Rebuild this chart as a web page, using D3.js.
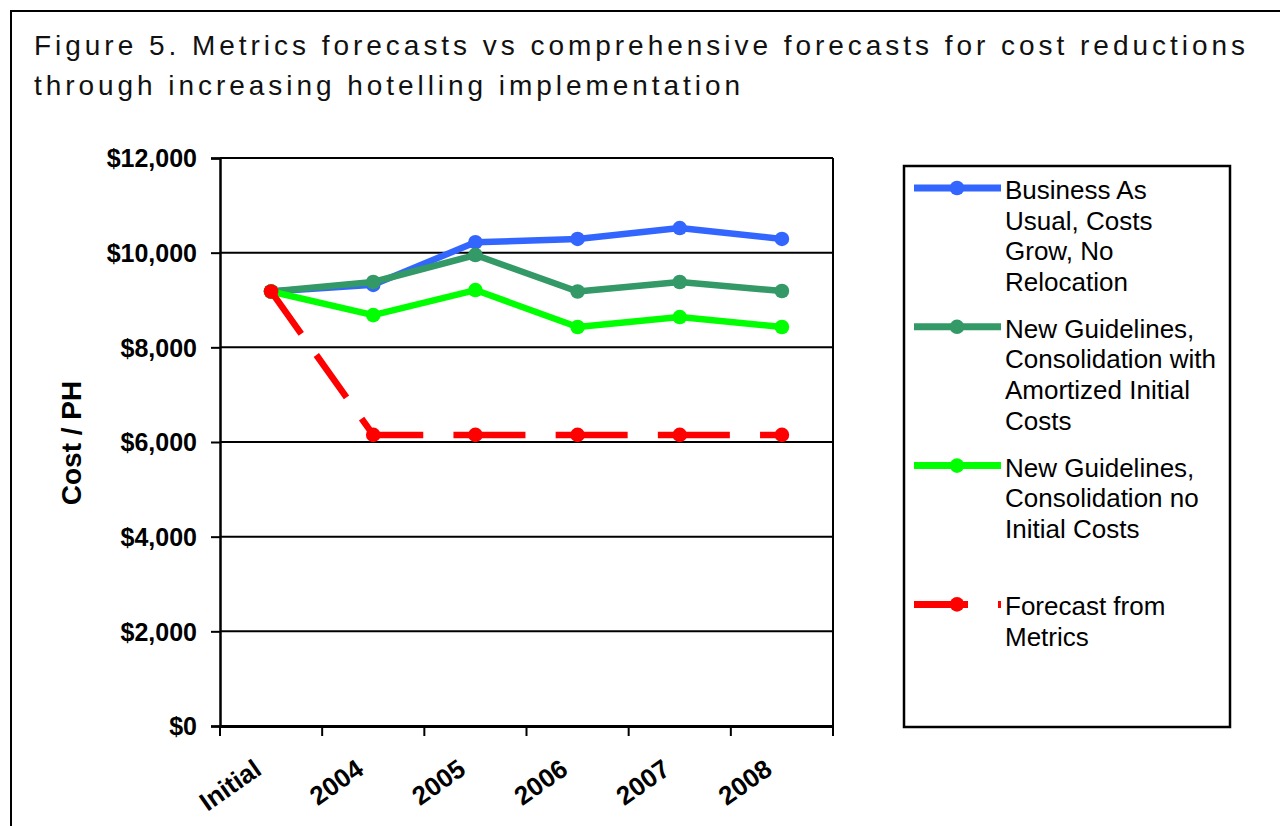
<!DOCTYPE html>
<html>
<head>
<meta charset="utf-8">
<script src="https://cdn.jsdelivr.net/npm/d3@7"></script>
<style>
  html, body { margin: 0; padding: 0; background: #fff; }
  svg { display: block; }
</style>
</head>
<body>
<svg id="chart" width="1280" height="826"></svg>
<script>
// ---- data ----
const categories = ["Initial", "2004", "2005", "2006", "2007", "2008"];
const businessAsUsual = [9180, 9320, 10220, 10290, 10520, 10290];
const amortizedCosts  = [9180, 9380, 9950, 9180, 9380, 9190];
const noInitialCosts  = [9180, 8680, 9210, 8430, 8640, 8430];
const metricsForecast = [9180, 6150, 6150, 6150, 6150, 6150];
const yTicks = [0, 2000, 4000, 6000, 8000, 10000, 12000];
const titleLines = [
  "Figure 5.  Metrics forecasts vs comprehensive forecasts for cost reductions",
  "through increasing hotelling implementation"
];
const yLabel = "Cost / PH";
const legendLabels = [
  ["Business As", "Usual, Costs", "Grow, No", "Relocation"],
  ["New Guidelines,", "Consolidation with", "Amortized Initial", "Costs"],
  ["New Guidelines,", "Consolidation no", "Initial Costs"],
  ["Forecast from", "Metrics"]
];
const seriesColors = ["#3366FF", "#339966", "#00FF00", "#FF0000"];

const series = [businessAsUsual, amortizedCosts, noInitialCosts, metricsForecast].map((v, i) => ({
  values: v, color: seriesColors[i], label: legendLabels[i], dashed: i === 3
}));

// ---- layout ----
const svg = d3.select("#chart");
const plot = { left: 220, right: 833, top: 158, bottom: 726 };
const font = "'Liberation Sans', Arial, Helvetica, sans-serif";

const x = d3.scaleBand().domain(categories).range([plot.left, plot.right]).padding(0);
const cx = c => x(c) + x.bandwidth() / 2;
const y = d3.scaleLinear().domain([0, 12000]).range([plot.bottom, plot.top]);

// outer frame
svg.append("path")
  .attr("d", "M11,826 L11,11 L1280,11")
  .attr("fill", "none").attr("stroke", "#000").attr("stroke-width", 2);

// title
svg.selectAll("text.title").data(titleLines).join("text")
  .attr("class", "title")
  .attr("x", 34)
  .attr("y", (d, i) => 55 + i * 40)
  .attr("font-family", font)
  .attr("font-size", 28)
  .attr("fill", "#111")
  .attr("textLength", (d, i) => i === 0 ? 1211 : 706)
  .attr("lengthAdjust", "spacing")
  .text(d => d);

// gridlines
svg.append("g").selectAll("line").data(yTicks).join("line")
  .attr("x1", plot.left).attr("x2", plot.right)
  .attr("y1", d => y(d)).attr("y2", d => y(d))
  .attr("stroke", "#000").attr("stroke-width", 2);

// right border
svg.append("line")
  .attr("x1", plot.right).attr("x2", plot.right)
  .attr("y1", plot.top).attr("y2", plot.bottom)
  .attr("stroke", "#000").attr("stroke-width", 2);

// y axis
const yAxis = svg.append("g")
  .attr("transform", `translate(${plot.left},0)`)
  .call(d3.axisLeft(y).tickValues(yTicks).tickSize(9).tickPadding(14).tickFormat(d3.format("$,")));
yAxis.select(".domain").attr("stroke", "#000").attr("stroke-width", 2.5);
yAxis.selectAll(".tick line").attr("stroke", "#000").attr("stroke-width", 2);
yAxis.selectAll(".tick text")
  .attr("font-family", font).attr("font-size", 25).attr("font-weight", "bold")
  .attr("fill", "#000").attr("dy", "0.35em");

// x axis (ticks at category boundaries)
const xAxis = svg.append("g")
  .attr("transform", `translate(0,${plot.bottom})`)
  .call(d3.axisBottom(x).tickSize(0).tickFormat(""));
xAxis.select(".domain").attr("stroke", "#000").attr("stroke-width", 3);
const boundaries = categories.map(c => x(c)).concat([plot.right]);
xAxis.selectAll("line.bt").data(boundaries).join("line")
  .attr("class", "bt")
  .attr("x1", d => d).attr("x2", d => d)
  .attr("y1", 0).attr("y2", 10)
  .attr("stroke", "#000").attr("stroke-width", 2);
xAxis.selectAll("text.cat").data(categories).join("text")
  .attr("class", "cat")
  .attr("transform", d => `translate(${cx(d) - 8},${47}) rotate(-35)`)
  .attr("text-anchor", "end")
  .attr("font-family", font).attr("font-size", 26).attr("font-weight", "bold")
  .attr("fill", "#000")
  .text(d => d);

// y label
svg.append("text")
  .attr("transform", `translate(81,443) rotate(-90)`)
  .attr("text-anchor", "middle")
  .attr("font-family", font).attr("font-size", 28).attr("font-weight", "bold")
  .attr("fill", "#000")
  .text(yLabel);

// series
const line = d3.line().x((d, i) => cx(categories[i])).y(d => y(d));
const gSeries = svg.append("g");
series.forEach(s => {
  if (!s.dashed) {
    gSeries.append("path")
      .attr("d", line(s.values))
      .attr("fill", "none").attr("stroke", s.color)
      .attr("stroke-width", 6.5).attr("stroke-linejoin", "round");
  } else {
    // first (diagonal) segment and the remaining segments
    gSeries.append("path")
      .attr("d", d3.line().x((d, i) => cx(categories[i])).y(d => y(d))(s.values.slice(0, 2)))
      .attr("fill", "none").attr("stroke", s.color)
      .attr("stroke-width", 6.5).attr("stroke-dasharray", "52,26");
    gSeries.append("path")
      .attr("d", d3.line().x((d, i) => cx(categories[i + 1])).y(d => y(d))(s.values.slice(1)))
      .attr("fill", "none").attr("stroke", s.color)
      .attr("stroke-width", 6.5).attr("stroke-dasharray", "72,30.2").attr("stroke-dashoffset", 22);
  }
  gSeries.append("g").selectAll("circle").data(s.values).join("circle")
    .attr("cx", (d, i) => cx(categories[i]))
    .attr("cy", d => y(d))
    .attr("r", 7.3)
    .attr("fill", s.color);
});

// legend
const lg = svg.append("g");
lg.append("rect")
  .attr("x", 904).attr("y", 166).attr("width", 326).attr("height", 561)
  .attr("fill", "#fff").attr("stroke", "#000").attr("stroke-width", 2.5);
series.forEach((s, i) => {
  const my = 188 + i * 138.8;
  lg.append("line")
    .attr("x1", 914).attr("x2", 1001).attr("y1", my).attr("y2", my)
    .attr("stroke", s.color).attr("stroke-width", 7)
    .attr("stroke-dasharray", s.dashed ? "54,30,3,100" : null);
  lg.append("circle").attr("cx", 957).attr("cy", my).attr("r", 7.3).attr("fill", s.color);
  lg.append("text")
    .attr("font-family", font).attr("font-size", 26).attr("fill", "#000")
    .selectAll("tspan").data(s.label).join("tspan")
    .attr("x", 1005)
    .attr("y", (d, j) => my + 11 + j * 30.6)
    .text(d => d);
});
</script>
</body>
</html>
